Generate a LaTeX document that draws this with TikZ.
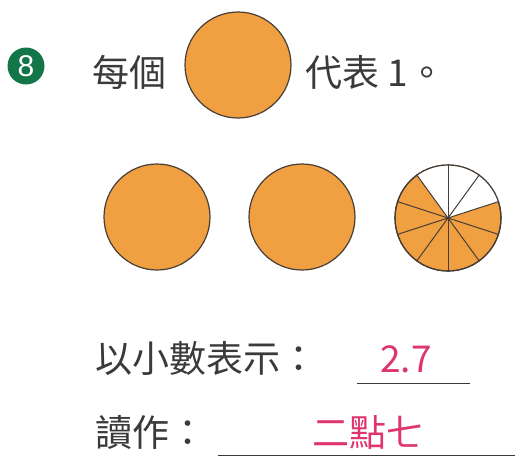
\documentclass[tikz,border=0pt]{standalone}
\usepackage{fontspec}
\newfontfamily\cjk{Noto Sans CJK TC}
\setsansfont{Liberation Sans}
\usetikzlibrary{positioning}
\definecolor{disc}{RGB}{240,160,64}
\definecolor{rim}{RGB}{70,62,55}
\definecolor{ink}{RGB}{58,58,58}
\definecolor{answer}{RGB}{222,52,112}
\definecolor{badge}{RGB}{18,118,72}
\tikzset{
  disc/.style={circle,draw=rim,line width=1.2pt,fill=disc,minimum size=106pt,inner sep=0pt},
  word/.style={text=ink,font=\cjk\fontsize{37}{40}\selectfont,inner sep=0pt},
  ans/.style={text=answer,font=\cjk\fontsize{37}{40}\selectfont,inner sep=0pt},
  blank/.style={ink,line width=0.8pt}
}

\begin{document}
\begin{tikzpicture}[x=1pt,y=1pt]
\useasboundingbox (0,0) rectangle (515,-466);
% heading
\node[circle,fill=badge,minimum size=37pt,inner sep=0pt,text=white,
  font=\sffamily\fontsize{30}{30}\selectfont] (num) at (26,-66) {8};
\node[word,anchor=west] (each) at (92,-72) {每個};
\node[disc] (unit) at (238,-65) {};
\node[word,anchor=west] (means) at (305,-72) {代表 1。};
% the three discs
\node[disc] (first) at (157,-217) {};
\node[disc] (second) at (302,-217) {};
\node[disc] (third) at (448,-218) {};
\fill[white] (third.center) -- (third.18) arc[start angle=18,end angle=126,radius=53] -- cycle;
\foreach \a in {18,54,...,342}
  \draw[rim,line width=1pt] (third.center) -- (third.\a);
\draw[rim,line width=1.2pt] (third.center) circle[radius=53];
% answers
\node[word,anchor=west] (dec) at (95,-358) {以小數表示：};
\coordinate (d1) at (357,-383);
\coordinate (d2) at (470,-383);
\draw[blank] (d1) -- (d2);
\node[ans] (num27) at (406,-359) {2.7};
\node[word,anchor=west] (read) at (95,-432) {讀作：};
\coordinate (r1) at (218,-455);
\coordinate (r2) at (515,-455);
\draw[blank] (r1) -- (r2);
\node[ans] (words) at (368,-432) {二點七};
\end{tikzpicture}
\end{document}
